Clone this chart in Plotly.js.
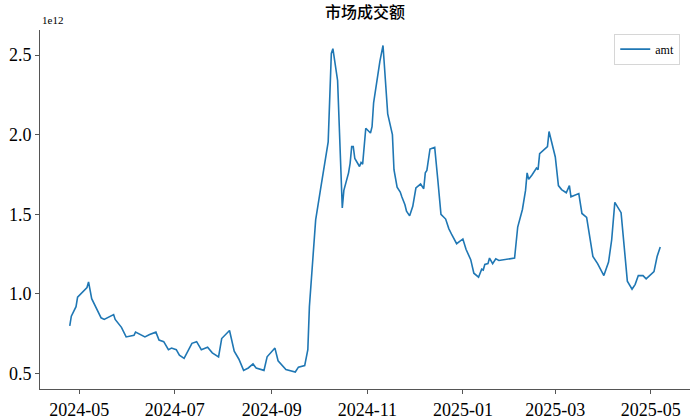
<!DOCTYPE html>
<html>
<head>
<meta charset="utf-8">
<script src="https://cdn.plot.ly/plotly-3.0.1.min.js"></script>
<style>html,body{margin:0;padding:0;background:#fff;}#chart{width:700px;height:420px;}</style>
</head>
<body>
<div id="chart"></div>
<script>
// Trading dates (vertices)
const dates = [
 '2024-04-25','2024-04-26','2024-04-29','2024-04-30','2024-05-06','2024-05-07','2024-05-09','2024-05-12',
 '2024-05-15','2024-05-17','2024-05-21','2024-05-23','2024-05-24','2024-05-28','2024-05-31','2024-06-04',
 '2024-06-05','2024-06-06','2024-06-12','2024-06-15','2024-06-19','2024-06-21','2024-06-24','2024-06-27',
 '2024-06-29','2024-07-02','2024-07-04','2024-07-07','2024-07-09','2024-07-12','2024-07-15','2024-07-18',
 '2024-07-22','2024-07-25','2024-07-29','2024-07-31','2024-08-05','2024-08-08','2024-08-11','2024-08-14',
 '2024-08-17','2024-08-20','2024-08-22','2024-08-27','2024-08-29','2024-09-03','2024-09-05','2024-09-10',
 '2024-09-16','2024-09-18','2024-09-22','2024-09-24','2024-09-25','2024-09-27','2024-09-29','2024-10-02',
 '2024-10-04','2024-10-07','2024-10-09','2024-10-10','2024-10-13','2024-10-15','2024-10-16','2024-10-17',
 '2024-10-20','2024-10-21','2024-10-22','2024-10-23','2024-10-24','2024-10-27','2024-10-28','2024-10-29',
 '2024-10-31','2024-11-03','2024-11-04','2024-11-05','2024-11-07','2024-11-09','2024-11-11','2024-11-14',
 '2024-11-17','2024-11-18','2024-11-20','2024-11-22','2024-11-23','2024-11-25','2024-11-26','2024-11-28',
 '2024-11-30','2024-12-02','2024-12-05','2024-12-07','2024-12-08','2024-12-09','2024-12-11','2024-12-14',
 '2024-12-16','2024-12-18','2024-12-21','2024-12-23','2024-12-25','2024-12-28','2025-01-01','2025-01-03',
 '2025-01-06','2025-01-08','2025-01-11','2025-01-13','2025-01-14','2025-01-15','2025-01-17','2025-01-18',
 '2025-01-20','2025-01-22','2025-01-24','2025-02-03','2025-02-05','2025-02-08','2025-02-10','2025-02-11',
 '2025-02-12','2025-02-14','2025-02-17','2025-02-18','2025-02-19','2025-02-22','2025-02-24','2025-02-25',
 '2025-02-27','2025-03-01','2025-03-03','2025-03-05','2025-03-08','2025-03-10','2025-03-11','2025-03-16',
 '2025-03-18','2025-03-21','2025-03-25','2025-03-28','2025-04-01','2025-04-04','2025-04-06','2025-04-08',
 '2025-04-12','2025-04-14','2025-04-16','2025-04-19','2025-04-21','2025-04-23','2025-04-26','2025-04-28',
 '2025-05-03','2025-05-05','2025-05-07'
];
// amt in units of 1e12
const amt = [
 0.80,0.86,0.92,0.98,1.04,1.075,0.97,0.91,
 0.85,0.84,0.86,0.87,0.84,0.79,0.73,0.74,
 0.74,0.76,0.73,0.745,0.76,0.71,0.70,0.65,
 0.66,0.65,0.615,0.595,0.63,0.69,0.70,0.65,
 0.665,0.63,0.605,0.72,0.77,0.64,0.59,0.52,
 0.535,0.56,0.535,0.52,0.605,0.66,0.58,0.525,
 0.51,0.54,0.55,0.65,0.92,1.19,1.465,1.65,
 1.78,1.955,2.51,2.54,2.34,1.78,1.54,1.65,
 1.76,1.82,1.925,1.925,1.85,1.80,1.825,1.815,
 2.04,2.01,2.05,2.20,2.34,2.46,2.56,2.13,
 2.00,1.78,1.67,1.64,1.61,1.56,1.52,1.49,
 1.55,1.665,1.69,1.66,1.76,1.775,1.91,1.92,
 1.715,1.50,1.47,1.41,1.37,1.315,1.345,1.28,
 1.215,1.13,1.105,1.155,1.15,1.185,1.19,1.225,
 1.19,1.22,1.21,1.225,1.42,1.53,1.65,1.76,
 1.72,1.745,1.79,1.78,1.88,1.905,1.925,2.02,
 1.945,1.86,1.68,1.655,1.635,1.68,1.61,1.63,
 1.505,1.48,1.235,1.19,1.115,1.20,1.34,1.575,
 1.51,1.30,1.08,1.03,1.06,1.115,1.115,1.095,
 1.14,1.235,1.295
];
const seriesName = 'amt';
const titleText = '市场成交额';
const xTickVals = ['2024-05-01','2024-07-01','2024-09-01','2024-11-01','2025-01-01','2025-03-01','2025-05-01'];
const xTickText = ['2024-05','2024-07','2024-09','2024-11','2025-01','2025-03','2025-05'];
const yTickVals = [0.5,1.0,1.5,2.0,2.5];
const yTickText = ['0.5','1.0','1.5','2.0','2.5'];

const serif = '"Liberation Serif", "DejaVu Serif", "Noto Sans CJK SC", serif';

const trace = {
  x: dates, y: amt, type: 'scatter', mode: 'lines', name: seriesName,
  line: {color: '#1f77b4', width: 1.6}
};

const layout = {
  width: 700, height: 420,
  margin: {l: 40, r: 10, t: 30, b: 31},
  paper_bgcolor: '#fff', plot_bgcolor: '#fff',
  font: {family: serif, color: '#000'},
  title: {text: titleText, x: 0.5, xref: 'paper', y: 0.985, yref: 'container', yanchor: 'top',
          font: {family: '"Noto Sans CJK SC", serif', size: 16, color: '#000', weight: 500}},
  showlegend: true,
  legend: {x: 0.985, y: 0.99, xanchor: 'right', yanchor: 'top', bgcolor: '#fff',
           bordercolor: '#d6d6d6', borderwidth: 1, font: {family: serif, size: 12},
           itemwidth: 30, tracegroupgap: 0},
  xaxis: {
    type: 'date', range: ['2024-04-06', '2025-05-26'],
    tickvals: xTickVals, ticktext: xTickText,
    showgrid: false, zeroline: false, showline: true, linecolor: '#555', linewidth: 1,
    ticks: 'outside', ticklen: 4, tickcolor: '#555',
    tickfont: {family: serif, size: 18, color: '#000'}
  },
  yaxis: {
    range: [0.403, 2.657],
    tickvals: yTickVals, ticktext: yTickText,
    showgrid: false, zeroline: false, showline: true, linecolor: '#555', linewidth: 1,
    ticks: 'outside', ticklen: 4, tickcolor: '#555',
    tickfont: {family: serif, size: 18, color: '#000'}
  },
  annotations: [{
    text: '1e12', xref: 'paper', yref: 'paper', x: 0, y: 1, xanchor: 'left', yanchor: 'bottom',
    showarrow: false, font: {family: serif, size: 11, color: '#000'}, yshift: 2
  }]
};

Plotly.newPlot('chart', [trace], layout, {displayModeBar: false, staticPlot: true});
</script>
</body>
</html>
